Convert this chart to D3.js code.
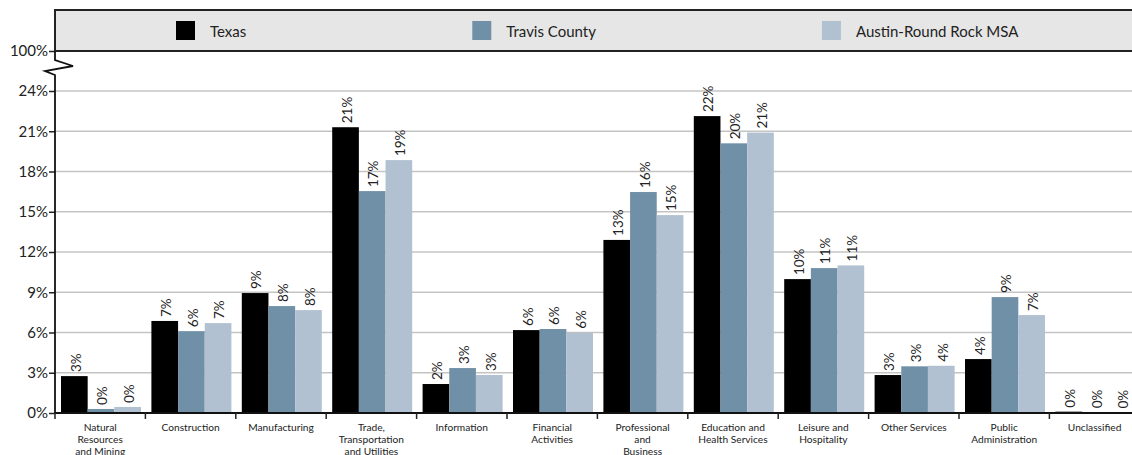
<!DOCTYPE html>
<html>
<head>
<meta charset="utf-8">
<script src="https://cdn.jsdelivr.net/npm/d3@7"></script>
<style>
  html, body { margin: 0; padding: 0; background: #fff; }
  svg { display: block; font-family: Lato, "Open Sans", sans-serif; }
</style>
</head>
<body>
<svg id="chart" width="1132" height="455"></svg>
<script>
// Employment share by industry (percent of total)
const categories = [
  "Natural|Resources|and Mining",
  "Construction",
  "Manufacturing",
  "Trade,|Transportation|and Utilities",
  "Information",
  "Financial|Activities",
  "Professional|and|Business|Services",
  "Education and|Health Services",
  "Leisure and|Hospitality",
  "Other Services",
  "Public|Administration",
  "Unclassified"
];
const seriesNames = ["Texas", "Travis County", "Austin-Round Rock MSA"];
const texasValues  = [2.75, 6.86, 8.94, 21.3, 2.16, 6.18, 12.9, 22.13, 9.98, 2.83, 4.02, 0.1];
const travisValues = [0.3, 6.1, 7.97, 16.54, 3.35, 6.26, 16.47, 20.1, 10.8, 3.48, 8.64, 0.05];
const msaValues    = [0.45, 6.7, 7.67, 18.85, 2.83, 5.98, 14.75, 20.9, 11.0, 3.52, 7.3, 0.03];
const yTickValues  = [0, 3, 6, 9, 12, 15, 18, 21, 24, 100];

const seriesValues = [texasValues, travisValues, msaValues];
const colors = ["#000000", "#7090a8", "#b1c1d1"];

const svg = d3.select("#chart");
const left = 55, bottom = 413, top24 = 91, top100 = 51;
const bandStep = 90.4;
const right = 1132;

// Broken value axis: 0–24% linear, then a jump to 100%
const y = d3.scaleLinear().domain([0, 24, 100]).range([bottom, top24, top100]);
const x = d3.scaleBand().domain(d3.range(categories.length))
  .range([left, left + bandStep * categories.length]).padding(0);
const xs = d3.scaleBand().domain(d3.range(seriesNames.length))
  .range([6, 86]).padding(0);

// Legend panel
const legend = svg.append("g");
legend.append("rect").attr("x", left).attr("y", 10).attr("width", right - left + 10)
  .attr("height", top100 - 10).attr("fill", "#e6e6e6");
legend.append("path")
  .attr("d", `M${right + 5},10 H${left} V${top100} H${right + 5}`)
  .attr("fill", "none").attr("stroke", "#222").attr("stroke-width", 2);
let lx = 176;
seriesNames.forEach((name, i) => {
  const item = legend.append("g").attr("transform", `translate(${lx},0)`);
  item.append("rect").attr("x", 0).attr("y", 21).attr("width", 19).attr("height", 19)
    .attr("fill", colors[i]);
  const t = item.append("text").attr("x", 34).attr("y", 36.5)
    .attr("font-size", 15).attr("fill", "#222").text(name);
  lx += 34 + t.node().getComputedTextLength() + 226;
});

// Gridlines
svg.append("g").selectAll("line")
  .data(yTickValues.filter(v => v > 0 && v <= 24))
  .join("line")
  .attr("x1", left).attr("x2", right)
  .attr("y1", d => y(d)).attr("y2", d => y(d))
  .attr("stroke", "#c4c4c4").attr("stroke-width", 1.5);

// Bars
const groups = svg.append("g").selectAll("g")
  .data(categories.map((c, i) => i))
  .join("g")
  .attr("transform", i => `translate(${x(i)},0)`);

groups.selectAll("rect")
  .data(i => seriesValues.map((vals, s) => ({ s, v: vals[i] })))
  .join("rect")
  .attr("x", d => xs(d.s))
  .attr("width", xs.bandwidth())
  .attr("y", d => y(d.v))
  .attr("height", d => bottom - y(d.v))
  .attr("fill", d => colors[d.s]);

// Value labels, rotated above each bar
groups.selectAll("text.val")
  .data(i => seriesValues.map((vals, s) => ({ s, v: vals[i] })))
  .join("text")
  .attr("class", "val")
  .attr("transform", d => `translate(${xs(d.s) + xs.bandwidth() / 2 + 1.5},${y(d.v) - 4}) rotate(-90)`)
  .attr("dy", "0.35em")
  .attr("font-size", 13.5)
  .attr("fill", "#222")
  .text(d => Math.round(d.v) + "%");

// Value axis with break marker
const yAxis = svg.append("g").attr("transform", `translate(${left},0)`)
  .call(d3.axisLeft(y).tickValues(yTickValues).tickSize(6).tickFormat(d => d + "%"));
yAxis.select(".domain").remove();
yAxis.selectAll(".tick line").attr("stroke", "#222").attr("stroke-width", 1.5);
yAxis.selectAll(".tick text").attr("font-size", 15).attr("fill", "#222")
  .attr("font-family", "Lato, 'Open Sans', sans-serif").attr("x", -7);
svg.append("path")
  .attr("d", `M${left},${top100} V60 L73,66 L45,71 L${left},75 V${bottom}`)
  .attr("fill", "none").attr("stroke", "#111").attr("stroke-width", 1.8);

// Category axis
svg.append("line").attr("x1", left).attr("x2", right)
  .attr("y1", bottom).attr("y2", bottom)
  .attr("stroke", "#111").attr("stroke-width", 2);
svg.append("g").selectAll("line")
  .data(categories.map((c, i) => i))
  .join("line")
  .attr("x1", i => x(i)).attr("x2", i => x(i))
  .attr("y1", bottom).attr("y2", bottom + 6)
  .attr("stroke", "#222").attr("stroke-width", 1.5);

const labels = svg.append("g").selectAll("text")
  .data(categories)
  .join("text")
  .attr("x", (c, i) => x(i) + bandStep / 2)
  .attr("y", 431)
  .attr("text-anchor", "middle")
  .attr("font-size", 10.2)
  .attr("fill", "#222");
labels.selectAll("tspan")
  .data(c => c.split("|"))
  .join("tspan")
  .attr("x", function () { return this.parentNode.getAttribute("x"); })
  .attr("dy", (d, j) => j === 0 ? 0 : 12)
  .text(d => d);
</script>
</body>
</html>
